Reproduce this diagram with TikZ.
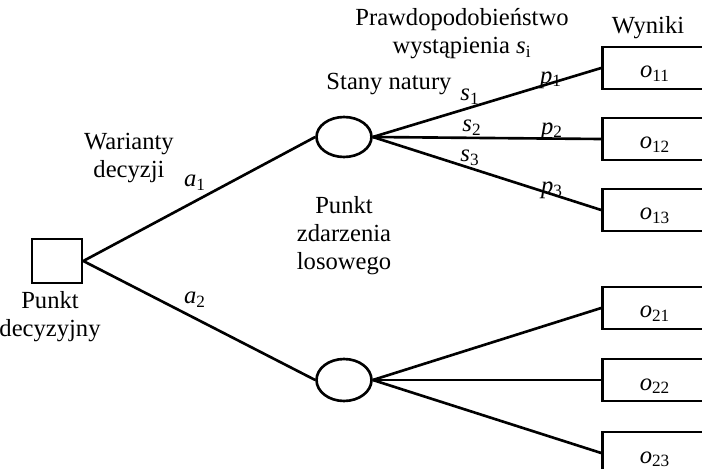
\documentclass[tikz,border=0pt]{standalone}
\usepackage{fontspec}
\setmainfont{Liberation Serif}
\usepackage{tikz}
\usetikzlibrary{shapes.geometric}

\newcommand{\idx}[2]{\textit{#1}\textsubscript{#2}}
\newcommand{\outc}[1]{\raisebox{-0.2cm}[0pt][0pt]{\idx{o}{#1}}}

\begin{document}
\begin{tikzpicture}[x=0.02cm,y=-0.02cm,font=\fontsize{14}{16}\selectfont]
\clip (0,0) rectangle (702,469);
\begin{scope}[every node/.style={draw,line width=1.5pt,inner sep=0pt}]
    \node[minimum width=1cm,minimum height=0.88cm] (D) at (57,261) {};
    \node[ellipse,minimum width=1.1cm,minimum height=0.8cm] (E1) at (344,137) {};
    \node[ellipse,minimum width=1.1cm,minimum height=0.84cm] (E2) at (344,380) {};
    \node[minimum width=2.1cm,minimum height=0.84cm] (O11) at (655,68) {\outc{11}};
    \node[minimum width=2.1cm,minimum height=0.84cm] (O12) at (655,139) {\outc{12}};
    \node[minimum width=2.1cm,minimum height=0.84cm] (O13) at (655,210) {\outc{13}};
    \node[minimum width=2.1cm,minimum height=0.84cm] (O21) at (655,308) {\outc{21}};
    \node[minimum width=2.1cm,minimum height=0.84cm] (O22) at (655,380) {\outc{22}};
    \node[minimum width=2.1cm,minimum height=0.84cm] (O23) at (655,453) {\outc{23}};
\end{scope}
\begin{scope}[every edge/.style={draw=black,line width=1.5pt}]
    \path [-] (D.east) edge (E1.west);
    \path [-] (D.east) edge (E2.west);
    \path [-] (E1.east) edge (O11.west);
    \path [-] (E1.east) edge (O12.west);
    \path [-] (E1.east) edge (O13.west);
    \path [-] (E2.east) edge (O21.west);
    \path [-] (E2.east) edge (O22.west);
    \path [-] (E2.east) edge (O23.west);
\end{scope}
\begin{scope}[every node/.style={align=center,inner sep=0pt}]
    \node (lblD) at (50,317) {Punkt\\decyzyjny};
    \node (lblW) at (129,158) {Warianty\\decyzji};
    \node (lblE) at (344,236) {Punkt\\zdarzenia\\losowego};
    \node (lblS) at (389,84) {Stany natury};
    \node (lblP) at (462,34) {Prawdopodobieństwo\\wystąpienia \idx{s}{i}};
    \node (lblR) at (648,28) {Wyniki};
    \node (a1) at (195,183) {\idx{a}{1}};
    \node (a2) at (195,300) {\idx{a}{2}};
    \node (s1) at (470,97) {\idx{s}{1}};
    \node (s2) at (472,128) {\idx{s}{2}};
    \node (s3) at (470,158) {\idx{s}{3}};
    \node (p1) at (551,80) {\idx{p}{1}};
    \node (p2) at (552,131) {\idx{p}{2}};
    \node (p3) at (552,190) {\idx{p}{3}};
\end{scope}
\end{tikzpicture}
\end{document}
